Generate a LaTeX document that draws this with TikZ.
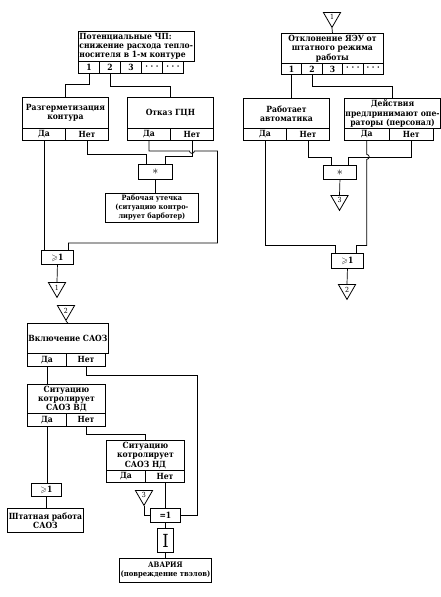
\documentclass[tikz,border=0pt]{standalone}
\usepackage{fontspec,amssymb}
\setmainfont{DejaVu Serif Condensed}
\usetikzlibrary{shapes.geometric}

\begin{document}
\begin{tikzpicture}[x=1pt,y=-1pt,
  blk/.style={draw,line width=0.9pt,align=center,inner sep=1pt,anchor=north west,font=\fontsize{8.5}{9.3}\selectfont\bfseries},
  cell/.style={blk,minimum height=12pt},
  gate/.style={blk,font=\fontsize{12}{12}\selectfont},
  tri/.style={draw,line width=0.8pt,regular polygon,regular polygon sides=3,shape border rotate=180,minimum size=20pt,inner sep=0pt,anchor=north,font=\fontsize{7}{7}\selectfont},
  wire/.style={line width=0.7pt}]
\fill[white] (0,0) rectangle (440,597);
\useasboundingbox (0,0) rectangle (440,597);
% left tree
\node[blk,minimum width=105pt,minimum height=30pt,align=left] (pot) at (78,31) {Потенциальные ЧП:\\снижение расхода тепло-\\носителя в 1-м контуре};
\foreach \t [count=\i] in {1,2,3,· · ·,· · ·}
  \node[cell,minimum width=21pt] (p\i) at ({57+21*\i},61) {\t};
\node[blk,minimum width=86pt,minimum height=31pt] (raz) at (22,97) {Разгерметизация\\контура};
\node[cell,minimum width=43pt] (razY) at (22,128) {Да};
\node[cell,minimum width=43pt] (razN) at (65,128) {Нет};
\node[blk,minimum width=86pt,minimum height=31pt] (gcn) at (127,97) {Отказ ГЦН};
\node[cell,minimum width=43pt] (gcnY) at (127,128) {Да};
\node[cell,minimum width=43pt] (gcnN) at (170,128) {Нет};
\node[gate,minimum width=34pt,minimum height=15pt] (and1) at (138,164) {$\ast$};
\node[blk,minimum width=93pt,minimum height=29pt,font=\fontsize{7.3}{9}\selectfont\bfseries] (leak) at (105,193) {Рабочая утечка\\(ситуацию контро-\\лирует барботер)};
\node[blk,minimum width=32pt,minimum height=14pt] (or1) at (41,250) {$\geqslant$1};
\node[tri] (t1a) at (57,282) {1};
\draw[wire] (p1.south) -- ++(0,10) -| (raz.north);
\draw[wire] (p2.south) -- ++(0,12) -| (gcn.north);
\draw[wire] (razY.south) -- (razY.south |- or1.north);
\draw[wire] (razN.south) -- ++(0,13) -| ([xshift=-9pt]and1.north);
\draw[wire] (gcnN.south) -- ++(0,15) -| ([xshift=10pt]and1.north);
\draw[wire] (gcnY.south) -- ++(0,10) -- ([xshift=-2.5pt,yshift=-10pt]gcnN.south)
  arc[start angle=180,end angle=360,radius=2.5pt] -- ++(23,0)
  |- ([xshift=11pt,yshift=7pt]or1.north) -- ([xshift=11pt]or1.north);
\draw[wire] (and1.south) -- (and1.south |- leak.north);
\draw[wire] (or1.south) -- (t1a.north);
% right tree
\node[tri] (t1b) at (332,12) {1};
\node[blk,minimum width=102pt,minimum height=30pt] (dev) at (281,33) {Отклонение ЯЭУ от\\штатного режима\\работы};
\foreach \t [count=\i] in {1,2,3,· · ·,· · ·}
  \node[cell,minimum width=20.4pt,minimum height=11pt] (d\i) at ({260.6+20.4*\i},63) {\t};
\node[blk,minimum width=86pt,minimum height=30pt] (auto) at (243,98) {Работает\\автоматика};
\node[cell,minimum width=43pt] (autoY) at (243,128) {Да};
\node[cell,minimum width=43pt] (autoN) at (286,128) {Нет};
\node[blk,minimum width=89pt,minimum height=30pt] (oper) at (344,98) {Действия\\предлринимают опе-\\раторы (персонал)};
\node[cell,minimum width=44.5pt] (operY) at (344,128) {Да};
\node[cell,minimum width=44.5pt] (operN) at (388.5,128) {Нет};
\node[gate,minimum width=33pt,minimum height=14pt] (and2) at (323,165) {$\ast$};
\node[tri] (t3a) at (339.5,195) {3};
\node[blk,minimum width=32pt,minimum height=15pt] (or2) at (331,253) {$\geqslant$1};
\node[tri] (t2a) at (347,284) {2};
\draw[wire] (t1b.south) -- (dev.north);
\draw[wire] (d1.south) -- (d1.south |- auto.north);
\draw[wire] (d2.south) -- ++(0,11) -| (oper.north);
\draw[wire] (autoN.south) -- ++(0,16) -| ([xshift=-9pt]and2.north);
\draw[wire] (operN.south) -- ++(0,16) -| ([xshift=8.5pt]and2.north);
\draw[wire] (operY.south) -- ++(0,13.5) arc[start angle=90,end angle=-90,radius=2.5pt]
  -- ++(0,86) -| ([xshift=9pt]or2.north);
\draw[wire] (autoY.south) -- ++(0,104) -| ([xshift=-12pt]or2.north);
\draw[wire] (and2.south) -- (t3a.north);
\draw[wire] (or2.south) -- (t2a.north);
% lower tree
\node[tri] (t2b) at (66,305) {2};
\node[blk,minimum width=78pt,minimum height=30pt] (saoz) at (27,323) {Включение САОЗ};
\node[cell,minimum width=39pt,minimum height=13pt] (saozY) at (27,353) {Да};
\node[cell,minimum width=39pt,minimum height=13pt] (saozN) at (66,353) {Нет};
\node[blk,minimum width=78pt,minimum height=29pt] (vd) at (27,384) {Ситуацию\\котролирует\\САОЗ ВД};
\node[cell,minimum width=39pt,minimum height=13pt] (vdY) at (27,413) {Да};
\node[cell,minimum width=39pt,minimum height=13pt] (vdN) at (66,413) {Нет};
\node[blk,minimum width=78pt,minimum height=30pt] (nd) at (106,440) {Ситуацию\\котролирует\\САОЗ НД};
\node[cell,minimum width=39pt] (ndY) at (106,470) {Да};
\node[cell,minimum width=39pt] (ndN) at (145,470) {Нет};
\node[blk,minimum width=30pt,minimum height=13pt] (or3) at (31,483) {$\geqslant$1};
\node[blk,minimum width=76pt,minimum height=24pt] (norm) at (7,508) {Штатная работа\\САОЗ};
\node[tri] (t3b) at (144,490) {3};
\node[blk,minimum width=30pt,minimum height=14pt] (xor) at (150,508) {=1};
\node[blk,minimum width=16pt,minimum height=24pt,font=\fontsize{18}{18}\selectfont] (ctrl) at (157,528) {I};
\node[blk,minimum width=92pt,minimum height=24pt,font=\fontsize{7.6}{9}\selectfont\bfseries] (crash) at (119,558) {АВАРИЯ\\(повреждение твэлов)};
\draw[wire] (t2b.south) -- (saoz.north);
\draw[wire] (saozY.south) -- (saozY.south |- vd.north);
\draw[wire] (saozN.south) -- ++(0,8) -- ++(111.5,0) |- (xor.east);
\draw[wire] (vdY.south) -- (vdY.south |- or3.north);
\draw[wire] (or3.south) -- (or3.south |- norm.north);
\draw[wire] (vdN.south) -- ++(0,7) -| (nd.north);
\draw[wire] (ndN.south) -- (ndN.south |- xor.north);
\draw[wire] (t3b.south) |- (xor.west);
\draw[wire] (xor.south) -- (ctrl.north);
\draw[wire] (ctrl.south) -- (crash.north);
\end{tikzpicture}
\end{document}
